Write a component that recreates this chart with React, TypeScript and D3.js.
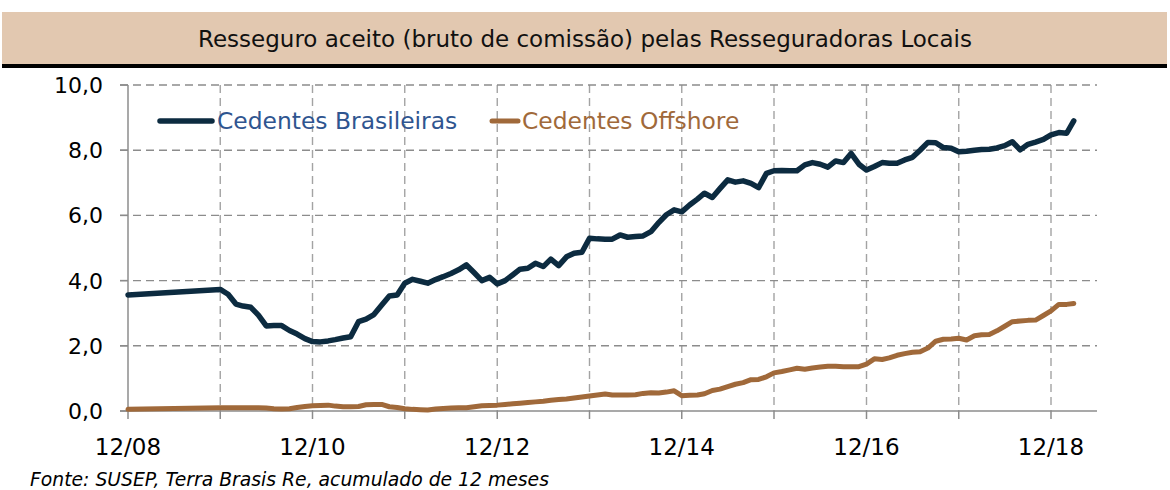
import React from "react";
import * as d3 from "d3";

// months covered: 12/08, then monthly from 12/09 to 03/19
const firstDate = "2008-12";
const monthlyStart = "2009-12";
const monthlyEnd = "2019-03";

const brasileiras = [
  3.56,
  3.73, 3.58, 3.28, 3.22, 3.18, 2.94, 2.61, 2.62, 2.62, 2.47, 2.36, 2.22,
  2.13, 2.12, 2.15, 2.19, 2.24, 2.28, 2.74, 2.82, 2.96, 3.25, 3.53, 3.56,
  3.92, 4.04, 3.98, 3.92, 4.03, 4.12, 4.22, 4.33, 4.48, 4.24, 4.0, 4.1,
  3.9, 4.0, 4.18, 4.35, 4.38, 4.53, 4.43, 4.66, 4.46, 4.73, 4.84, 4.87,
  5.3, 5.28, 5.27, 5.27, 5.4, 5.33, 5.35, 5.37, 5.5, 5.78, 6.02, 6.17,
  6.11, 6.32, 6.5, 6.68, 6.55, 6.82, 7.09, 7.02, 7.06, 6.98, 6.85, 7.29,
  7.37, 7.38, 7.37, 7.37, 7.55, 7.62, 7.57, 7.48, 7.67, 7.62, 7.9, 7.57,
  7.39, 7.5, 7.62, 7.6, 7.6, 7.7, 7.78, 8.0, 8.24, 8.23, 8.08, 8.06,
  7.95, 7.97, 8.0, 8.02, 8.03, 8.07, 8.14, 8.26, 8.01, 8.18, 8.25, 8.33,
  8.47, 8.54, 8.52, 8.9,
];

const offshore = [
  0.05,
  0.1, 0.1, 0.1, 0.1, 0.1, 0.1, 0.09, 0.07, 0.06, 0.07, 0.11, 0.14,
  0.16, 0.17, 0.18, 0.15, 0.13, 0.13, 0.14, 0.19, 0.2, 0.2, 0.13, 0.11,
  0.07, 0.05, 0.04, 0.03, 0.06, 0.08, 0.09, 0.1, 0.1, 0.13, 0.16, 0.17,
  0.18, 0.2, 0.22, 0.24, 0.26, 0.28, 0.3, 0.33, 0.35, 0.37, 0.4, 0.43,
  0.46, 0.49, 0.52, 0.49, 0.49, 0.49, 0.5, 0.54, 0.56, 0.55, 0.58, 0.62,
  0.47, 0.48, 0.49, 0.53, 0.63, 0.67, 0.75, 0.82, 0.87, 0.96, 0.97, 1.05,
  1.17, 1.21, 1.26, 1.31, 1.28, 1.32, 1.35, 1.37, 1.37, 1.36, 1.36, 1.36,
  1.44, 1.6, 1.58, 1.63, 1.71, 1.76, 1.8, 1.82, 1.93, 2.14, 2.2, 2.21,
  2.23, 2.18, 2.31, 2.34, 2.35, 2.46, 2.6, 2.74, 2.76, 2.78, 2.79, 2.93,
  3.07, 3.27, 3.27, 3.3,
];

const yTicks = [0, 2, 4, 6, 8, 10];
const xTickYears = [2008, 2009, 2010, 2011, 2012, 2013, 2014, 2015, 2016, 2017, 2018];
const xLabelYears = [2008, 2010, 2012, 2014, 2016, 2018];

const title = "Resseguro aceito (bruto de comissão) pelas Resseguradoras Locais";
const source = "Fonte: SUSEP, Terra Brasis Re, acumulado de 12 meses";
const seriesNames = ["Cedentes Brasileiras", "Cedentes Offshore"];

const W = 1170;
const H = 490;
const plot = { left: 128, right: 1097, top: 85, bottom: 411 };
const navy = "#0c2b40";
const brown = "#a0693a";
const gridColor = "#8c8c8c";
const font = "'DejaVu Sans', Verdana, sans-serif";

const parseMonth = d3.timeParse("%Y-%m");
const dates = [
  parseMonth(firstDate),
  ...d3.timeMonth.range(parseMonth(monthlyStart), d3.timeMonth.offset(parseMonth(monthlyEnd), 1)),
];

export default function App() {
  const x = d3
    .scaleTime()
    .domain([new Date(2008, 11, 1), new Date(2019, 5, 1)])
    .range([plot.left, plot.right]);
  const y = d3.scaleLinear().domain([0, 10]).range([plot.bottom, plot.top]);

  const line = d3
    .line<number>()
    .x((_, i) => x(dates[i]))
    .y((d) => y(d));

  const fmt = (v: number) => v.toFixed(1).replace(".", ",");
  const fmtDate = d3.timeFormat("%m/%y");

  return (
    <svg
      width={W}
      height={H}
      style={{ position: "absolute", left: 0, top: 0, background: "#fff" }}
    >
      {/* title band */}
      <rect x={2} y={12} width={1165} height={52} fill="#e2c8b0" />
      <rect x={2} y={64} width={1165} height={4} fill="#000" />
      <text x={585} y={47} textAnchor="middle" fontFamily={font} fontSize={23} fill="#111">
        {title}
      </text>

      {/* grid */}
      {yTicks.filter((t) => t > 0).map((t) => (
        <line
          key={"gy" + t}
          x1={plot.left - 8}
          x2={plot.right}
          y1={y(t)}
          y2={y(t)}
          stroke={gridColor}
          strokeWidth={1.4}
          strokeDasharray="8,5"
        />
      ))}
      {xTickYears.filter((yr) => yr > 2008).map((yr) => {
        const xx = x(new Date(yr, 11, 1));
        return (
          <line
            key={"gx" + yr}
            x1={xx}
            x2={xx}
            y1={plot.top}
            y2={plot.bottom}
            stroke={gridColor}
            strokeOpacity={0.8}
            strokeWidth={1.4}
            strokeDasharray="8,5"
          />
        );
      })}

      {/* axes */}
      <line x1={plot.left} x2={plot.left} y1={plot.top} y2={plot.bottom} stroke="#8c8c8c" strokeWidth={1.5} />
      <line x1={plot.left - 8} x2={plot.right} y1={plot.bottom} y2={plot.bottom} stroke="#8c8c8c" strokeWidth={1.5} />
      {yTicks.map((t) => (
        <g key={"yt" + t}>
          <line x1={plot.left - 8} x2={plot.left} y1={y(t)} y2={y(t)} stroke="#8c8c8c" strokeWidth={1.5} />
          <text x={103} y={y(t) + 8} textAnchor="end" fontFamily={font} fontSize={22} fill="#000">
            {fmt(t)}
          </text>
        </g>
      ))}
      {xTickYears.map((yr) => {
        const xx = x(new Date(yr, 11, 1));
        return (
          <line key={"xt" + yr} x1={xx} x2={xx} y1={plot.bottom} y2={plot.bottom + 8} stroke="#8c8c8c" strokeWidth={1.5} />
        );
      })}
      {xLabelYears.map((yr) => {
        const d = new Date(yr, 11, 1);
        return (
          <text key={"xl" + yr} x={x(d)} y={455} textAnchor="middle" fontFamily={font} fontSize={23} fill="#000">
            {fmtDate(d)}
          </text>
        );
      })}

      {/* series */}
      <path d={line(offshore) || ""} fill="none" stroke={brown} strokeWidth={5} strokeLinejoin="round" strokeLinecap="round" />
      <path d={line(brasileiras) || ""} fill="none" stroke={navy} strokeWidth={5.5} strokeLinejoin="round" strokeLinecap="round" />

      {/* legend */}
      <line x1={160} x2={212} y1={121} y2={121} stroke={navy} strokeWidth={5.5} strokeLinecap="round" />
      <text x={217} y={129} fontFamily={font} fontSize={23.4} fill="#2f5590">
        {seriesNames[0]}
      </text>
      <line x1={492} x2={518} y1={121} y2={121} stroke={brown} strokeWidth={5} strokeLinecap="round" />
      <text x={522} y={129} fontFamily={font} fontSize={23.4} fill={brown}>
        {seriesNames[1]}
      </text>

      {/* source */}
      <text x={30} y={486} fontFamily={font} fontStyle="italic" fontSize={18.8} fill="#000">
        {source}
      </text>
    </svg>
  );
}
